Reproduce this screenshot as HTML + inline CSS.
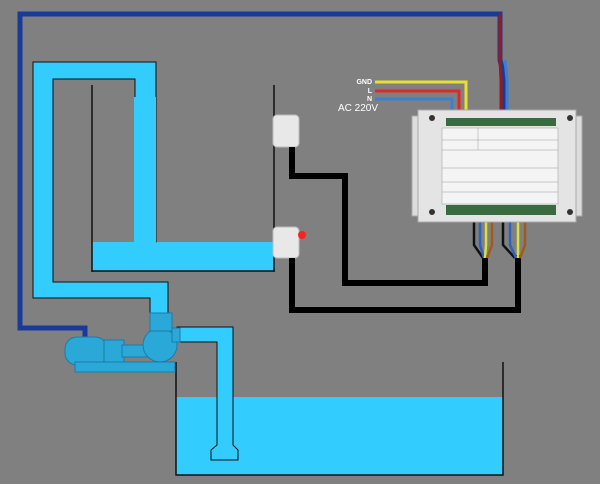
<!DOCTYPE html>
<html><head><style>html,body{margin:0;padding:0;background:#fff}svg{display:block}</style></head><body>
<svg width="600" height="503" viewBox="0 0 600 503" xmlns="http://www.w3.org/2000/svg" font-family="Liberation Sans, sans-serif">
<rect x="0" y="0" width="600" height="484" fill="#808080"/>
<!-- blue control wire -->
<polyline points="85,340 85,328 20,328 20,14 500,14 500,60 505,80 505,118" fill="none" stroke="#1a3a9a" stroke-width="5"/>
<polyline points="500,14 500,60 501,80 501,118" fill="none" stroke="#9a1a1a" stroke-width="3"/>
<polyline points="505,60 507,80 507,118" fill="none" stroke="#3a80d0" stroke-width="3"/>
<!-- upper tank -->
<rect x="92" y="242" width="182" height="29" fill="#33ccff"/>
<line x1="92" y1="85" x2="92" y2="272" stroke="#111" stroke-width="1.5"/>
<line x1="274" y1="85" x2="274" y2="272" stroke="#111" stroke-width="1.5"/>
<line x1="92" y1="271" x2="274" y2="271" stroke="#111" stroke-width="1.5"/>
<!-- outer pipe -->
<path d="M33,62 H156 V242 H135 V79 H53 V282 H168 V315 H150 V298 H33 Z" fill="#33ccff" stroke="#111" stroke-width="1"/>
<rect x="134" y="97" width="22" height="150" fill="#33ccff"/>
<!-- lower tank -->
<rect x="176" y="397" width="327" height="78" fill="#33ccff"/>
<polyline points="176,362 176,475 503,475 503,362" fill="none" stroke="#111" stroke-width="1.5"/>
<!-- outlet pipe -->
<path d="M177,327 H233 V445 L238,450 V460 H211 V450 L217,445 V342 H177 Z" fill="#33ccff" stroke="#111" stroke-width="1"/>
<!-- pump -->
<g fill="#2aa8d8" stroke="#1a7ca8" stroke-width="1">
<rect x="65" y="337" width="42" height="28" rx="12"/>
<rect x="104" y="340" width="20" height="22"/>
<rect x="122" y="345" width="30" height="12"/>
<circle cx="160" cy="345" r="17"/>
<rect x="150" y="313" width="22" height="18"/>
<rect x="172" y="328" width="8" height="14"/>
<rect x="75" y="362" width="100" height="10"/>
</g>
<!-- sensors -->
<rect x="273" y="115" width="26" height="32" rx="4" fill="#e8e8e8" stroke="#bbb"/>
<rect x="273" y="227" width="26" height="31" rx="4" fill="#e8e8e8" stroke="#bbb"/>
<circle cx="302" cy="235" r="4" fill="#ff2020"/>
<!-- black wires -->
<polyline points="292,147 292,176 345,176 345,283 485,283 485,255" fill="none" stroke="#000" stroke-width="6"/>
<polyline points="292,258 292,310 518,310 518,255" fill="none" stroke="#000" stroke-width="6"/>
<!-- colored relay wires -->
<g fill="none" stroke-width="2.5">
<polyline points="474,218 474,245 483,258" stroke="#111"/>
<polyline points="480,218 480,245 484,258" stroke="#3060c0"/>
<polyline points="486,218 486,245 485,258" stroke="#d8e040"/>
<polyline points="492,218 492,245 487,258" stroke="#a05a20"/>
<polyline points="503,218 503,245 515,258" stroke="#111"/>
<polyline points="510,218 510,245 516,258" stroke="#3060c0"/>
<polyline points="518,218 518,245 518,258" stroke="#d8e040"/>
<polyline points="525,218 525,245 520,258" stroke="#a05a20"/>
</g>
<!-- power wires -->
<g fill="none" stroke-width="3">
<polyline points="375,82 466,82 466,118" stroke="#e8e030"/>
<polyline points="375,91 459,91 459,118" stroke="#e02828"/>
<polyline points="375,99 452,99 452,118" stroke="#3a80d0"/>
</g>
<g font-size="7" font-weight="bold" fill="#fff" text-anchor="end">
<text x="372" y="84">GND</text><text x="372" y="93">L</text><text x="372" y="101">N</text>
</g>
<text x="338" y="111" font-size="10" fill="#fff">AC  220V</text>
<!-- relay box -->
<rect x="412" y="116" width="170" height="100" fill="#dcdcdc" stroke="#aaa"/>
<rect x="418" y="110" width="158" height="112" fill="#e4e4e4" stroke="#aaa"/>
<rect x="446" y="118" width="110" height="8" fill="#3a6a40"/>
<rect x="446" y="205" width="110" height="10" fill="#3a6a40"/>
<rect x="442" y="128" width="116" height="76" fill="#f4f4f4" stroke="#999" stroke-width="0.5"/>
<g stroke="#888" stroke-width="0.4">
<line x1="442" y1="140" x2="558" y2="140"/><line x1="442" y1="150" x2="558" y2="150"/>
<line x1="442" y1="168" x2="558" y2="168"/><line x1="442" y1="182" x2="558" y2="182"/>
<line x1="442" y1="192" x2="558" y2="192"/><line x1="478" y1="128" x2="478" y2="150"/>
</g>
<g fill="#333"><circle cx="432" cy="118" r="3"/><circle cx="570" cy="118" r="3"/><circle cx="432" cy="212" r="3"/><circle cx="570" cy="212" r="3"/></g>
</svg>
</body></html>
